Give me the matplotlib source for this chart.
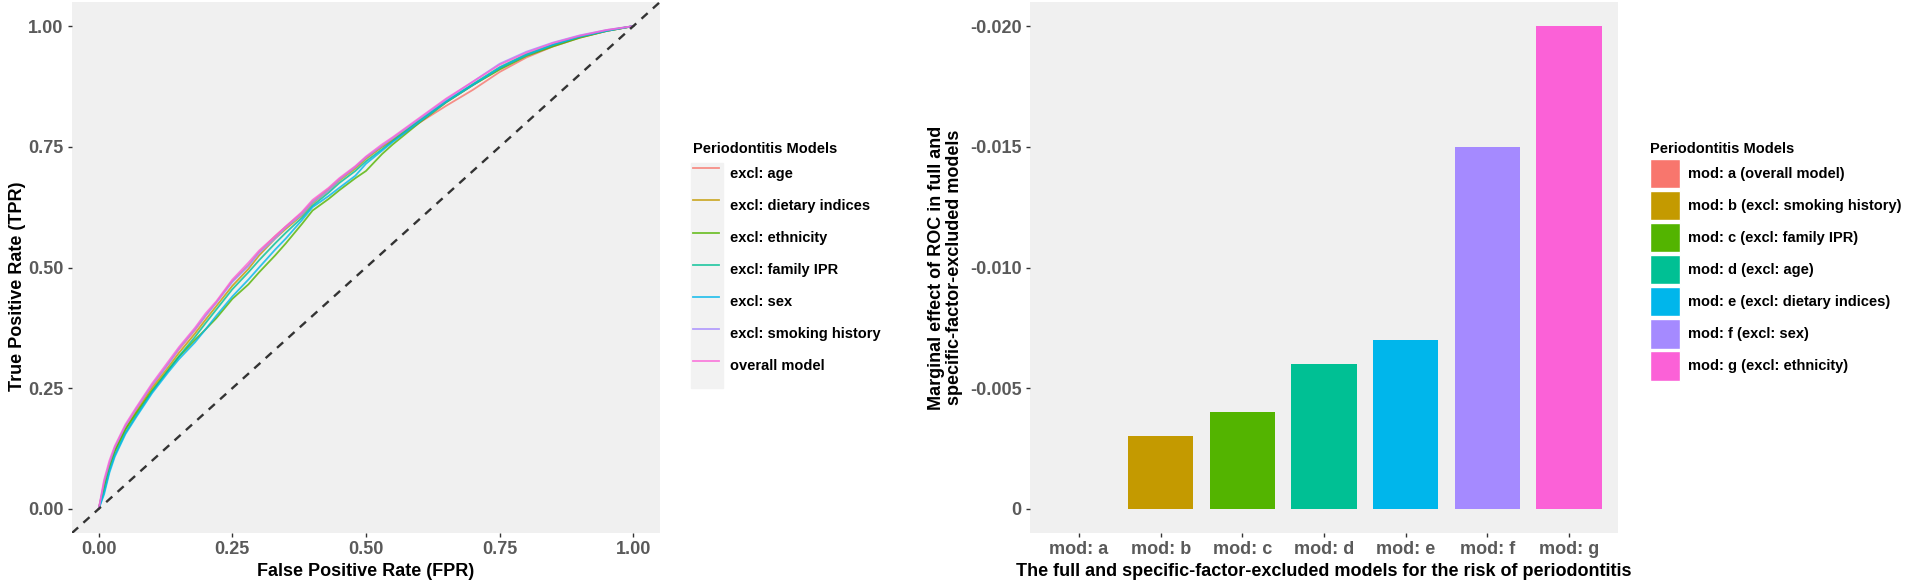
import matplotlib
matplotlib.use("Agg")
import matplotlib.pyplot as plt
import matplotlib.patches as mpatches
from matplotlib.lines import Line2D

plt.rcParams['font.family'] = ['Liberation Sans', 'DejaVu Sans']
plt.rcParams['font.weight'] = 'bold'
plt.rcParams['axes.labelweight'] = 'bold'

# ROC curves
fpr = [0, 0.01, 0.02, 0.03, 0.05, 0.07, 0.10, 0.13, 0.15, 0.18, 0.20, 0.22, 0.25, 0.28,
       0.30, 0.33, 0.35, 0.38, 0.40, 0.43, 0.45, 0.48, 0.50, 0.53, 0.55, 0.60, 0.65,
       0.70, 0.75, 0.80, 0.85, 0.90, 0.95, 1.00]
tpr_age = [0, 0.05, 0.092, 0.123, 0.17, 0.205, 0.255, 0.30, 0.33, 0.37, 0.40, 0.428, 0.472, 0.505,
           0.532, 0.565, 0.585, 0.613, 0.637, 0.663, 0.683, 0.708, 0.728, 0.75, 0.763, 0.80, 0.835,
           0.868, 0.905, 0.935, 0.958, 0.976, 0.99, 1.0]
tpr_diet = [0, 0.048, 0.09, 0.12, 0.165, 0.20, 0.25, 0.293, 0.323, 0.363, 0.392, 0.42, 0.462, 0.497,
            0.525, 0.56, 0.58, 0.608, 0.633, 0.66, 0.68, 0.705, 0.725, 0.75, 0.765, 0.805, 0.843,
            0.878, 0.912, 0.94, 0.96, 0.977, 0.99, 1.0]
tpr_eth = [0, 0.045, 0.088, 0.12, 0.165, 0.198, 0.245, 0.287, 0.315, 0.35, 0.372, 0.395, 0.435, 0.465,
           0.49, 0.525, 0.55, 0.59, 0.618, 0.642, 0.66, 0.685, 0.70, 0.735, 0.755, 0.80, 0.842,
           0.878, 0.91, 0.938, 0.958, 0.976, 0.99, 1.0]
tpr_ipr = [0, 0.035, 0.08, 0.112, 0.158, 0.193, 0.243, 0.287, 0.316, 0.356, 0.385, 0.413, 0.455, 0.49,
           0.515, 0.55, 0.572, 0.603, 0.628, 0.655, 0.675, 0.70, 0.72, 0.745, 0.762, 0.805, 0.845,
           0.88, 0.915, 0.942, 0.962, 0.979, 0.991, 1.0]
tpr_sex = [0, 0.03, 0.075, 0.108, 0.155, 0.19, 0.24, 0.283, 0.31, 0.345, 0.372, 0.40, 0.44, 0.475,
           0.50, 0.537, 0.56, 0.598, 0.625, 0.648, 0.665, 0.69, 0.715, 0.742, 0.76, 0.802, 0.843,
           0.878, 0.913, 0.94, 0.961, 0.978, 0.99, 1.0]
tpr_smoke = [0, 0.055, 0.095, 0.127, 0.172, 0.207, 0.257, 0.30, 0.332, 0.372, 0.40, 0.427, 0.47, 0.503,
             0.53, 0.56, 0.583, 0.61, 0.635, 0.66, 0.682, 0.708, 0.728, 0.752, 0.768, 0.808, 0.848,
             0.885, 0.922, 0.947, 0.966, 0.981, 0.992, 1.0]
tpr_overall = [0, 0.06, 0.10, 0.13, 0.175, 0.21, 0.26, 0.305, 0.335, 0.375, 0.405, 0.43, 0.475, 0.51,
               0.535, 0.565, 0.585, 0.615, 0.64, 0.665, 0.685, 0.71, 0.73, 0.755, 0.77, 0.81, 0.85,
               0.885, 0.92, 0.945, 0.965, 0.98, 0.992, 1.0]

roc_labels = ['excl: age', 'excl: dietary indices', 'excl: ethnicity', 'excl: family IPR',
              'excl: sex', 'excl: smoking history', 'overall model']
roc_tprs = [tpr_age, tpr_diet, tpr_eth, tpr_ipr, tpr_sex, tpr_smoke, tpr_overall]

# marginal effect bars
models = ['mod: a', 'mod: b', 'mod: c', 'mod: d', 'mod: e', 'mod: f', 'mod: g']
effects = [0, -0.003, -0.004, -0.006, -0.007, -0.015, -0.020]
bar_labels = ['mod: a (overall model)', 'mod: b (excl: smoking history)', 'mod: c (excl: family IPR)',
              'mod: d (excl: age)', 'mod: e (excl: dietary indices)', 'mod: f (excl: sex)',
              'mod: g (excl: ethnicity)']

hue = ['#F8766D', '#C49A00', '#53B400', '#00C094', '#00B6EB', '#A58AFF', '#FB61D7']
panel_bg = '#F0F0F0'
tick_col = '#5A5A5A'

W, H = 1908, 585
fig = plt.figure(figsize=(W / 100, H / 100), dpi=100)
ax1 = fig.add_axes([72 / W, 52 / H, 588 / W, 531 / H])
ax2 = fig.add_axes([1030 / W, 52 / H, 588 / W, 531 / H])

for ax in (ax1, ax2):
    ax.set_facecolor(panel_bg)
    for s in ax.spines.values():
        s.set_visible(False)
    ax.tick_params(length=3, width=1, color='#333333', labelcolor=tick_col,
                   labelsize=13, pad=3)

# ---- left: ROC curves
for lab, t, c in zip(roc_labels, roc_tprs, hue):
    ax1.plot(fpr, t, color=c, lw=1.3, alpha=0.8, label=lab)
ax1.axline((0, 0), (1, 1), color='#333333', lw=1.7, ls=(0, (3.5, 3)), zorder=5)
ax1.set_xlim(-0.05, 1.05)
ax1.set_ylim(-0.05, 1.05)
ax1.set_xticks([0, 0.25, 0.5, 0.75, 1.0])
ax1.set_yticks([0, 0.25, 0.5, 0.75, 1.0])
ax1.set_xticklabels(['0.00', '0.25', '0.50', '0.75', '1.00'])
ax1.set_yticklabels(['0.00', '0.25', '0.50', '0.75', '1.00'])
ax1.set_xlabel('False Positive Rate (FPR)', fontsize=13, labelpad=3)
ax1.set_ylabel('True Positive Rate (TPR)', fontsize=13)
ax1.yaxis.set_label_coords(-0.078, 0.465)

fig.patches.append(mpatches.Rectangle((691 / W, 1 - 388 / H), 32 / W, 225 / H,
                                      transform=fig.transFigure, color='#F2F2F2', zorder=0))
leg_lines = [Line2D([], [], color=c, lw=1.3, alpha=0.8) for c in hue]
fig.legend(leg_lines, roc_labels, title='Periodontitis Models', loc='upper left',
           bbox_to_anchor=(693 / W, 1 - 142 / H), frameon=False, fontsize=10.5,
           title_fontproperties={'weight': 'bold', 'size': 10.5}, alignment='left',
           handlelength=1.75, handleheight=2.7, handletextpad=0.8, labelspacing=0.2,
           borderpad=0, borderaxespad=0)

# ---- right: bars
xpos = list(range(len(models)))
ax2.bar(xpos, effects, width=0.8, color=hue)
ax2.set_xlim(-0.6, len(models) - 0.4)
ax2.set_ylim(0.001, -0.021)
ax2.set_xticks(xpos)
ax2.set_xticklabels(models)
yt = [0, -0.005, -0.010, -0.015, -0.020]
ax2.set_yticks(yt)
ax2.set_yticklabels(['0', '-0.005', '-0.010', '-0.015', '-0.020'])
ax2.set_xlabel('The full and specific-factor-excluded models for the risk of periodontitis',
               fontsize=13, labelpad=3)
ax2.set_ylabel('Marginal effect of ROC in full and\nspecific-factor-excluded models',
               fontsize=13, linespacing=1.1, labelpad=5)

leg_boxes = [mpatches.Patch(facecolor=c, edgecolor='white', lw=1) for c in hue]
fig.legend(leg_boxes, bar_labels, title='Periodontitis Models', loc='upper left',
           bbox_to_anchor=(1650 / W, 1 - 142 / H), frameon=False, fontsize=10.5,
           title_fontproperties={'weight': 'bold', 'size': 10.5}, alignment='left',
           handlelength=2.05, handleheight=2.7, handletextpad=0.55, labelspacing=0.2,
           borderpad=0, borderaxespad=0)

fig.savefig('out.png', dpi=100, facecolor='white')
